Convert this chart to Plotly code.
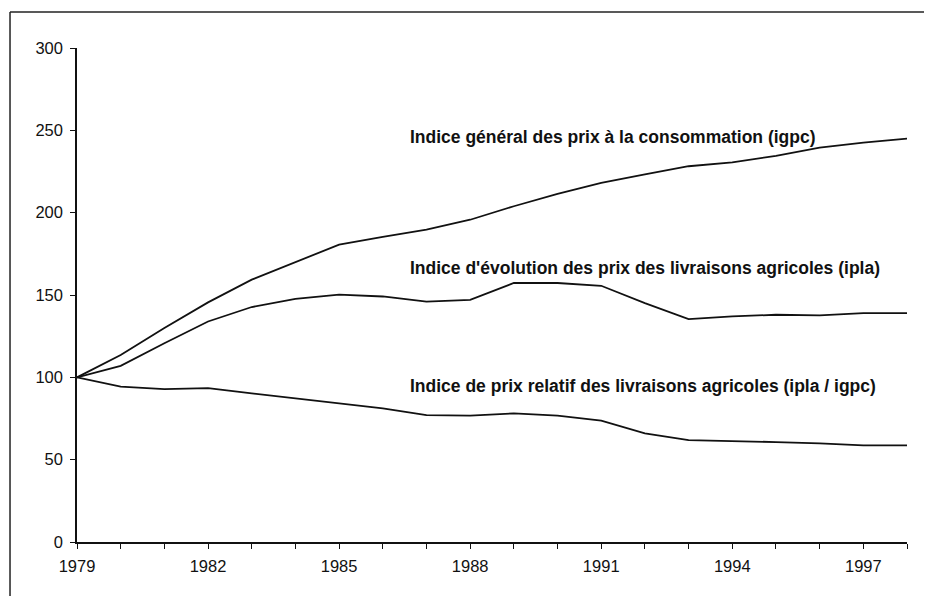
import plotly.graph_objects as go

years = list(range(1979, 1999))
igpc = [100, 113.6, 129.9, 145.5, 159.3, 169.8, 180.6, 185.3, 189.7, 195.7,
        203.9, 211.4, 218.1, 223.2, 228.2, 230.5, 234.5, 239.5, 242.5, 245.0]
ipla = [100, 107.0, 120.7, 133.9, 142.7, 147.7, 150.2, 149.1, 146.0, 147.1,
        157.3, 157.3, 155.6, 145.1, 135.3, 137.0, 138.0, 137.6, 139.0, 139.0]
ratio = [100, 94.3, 92.8, 93.4, 90.3, 87.3, 84.2, 81.2, 77.1, 76.7,
         78.1, 76.7, 73.7, 66.0, 61.9, 61.5, 60.7, 59.9, 58.7, 58.7]

labels = [
    "Indice général des prix à la consommation (igpc)",
    "Indice d'évolution des prix des livraisons agricoles (ipla)",
    "Indice de prix relatif des livraisons agricoles (ipla / igpc)",
]
tick_years = list(range(1979, 1999, 3))

fig = go.Figure()
for name, vals in zip(labels, [igpc, ipla, ratio]):
    fig.add_trace(go.Scatter(x=years, y=vals, mode="lines", name=name,
                             line=dict(color="#111111", width=1.8),
                             showlegend=False, hoverinfo="x+y"))

ann_pos = [(1986.58, 246), (1986.58, 166.5), (1986.58, 95)]
for (ax, ay), txt in zip(ann_pos, labels):
    fig.add_annotation(x=ax, y=ay, xref="x", yref="y", text="<b>" + txt + "</b>",
                       showarrow=False, xanchor="left", yanchor="middle",
                       font=dict(family="Liberation Sans, Arial", size=17.5, color="#111111"))

# outer frame (top and left edges visible)
fig.add_shape(type="line", xref="paper", yref="paper", x0=-0.0807, x1=1.2, y0=1.073, y1=1.073,
              line=dict(color="#222222", width=1.5))
fig.add_shape(type="line", xref="paper", yref="paper", x0=-0.0807, x1=-0.0807, y0=-0.2, y1=1.073,
              line=dict(color="#222222", width=1.5))

fig.update_layout(
    width=932, height=596,
    margin=dict(l=69, r=33, t=40, b=62),
    paper_bgcolor="white", plot_bgcolor="white",
    font=dict(family="Liberation Sans, Arial", size=16.5, color="#111111"),
    xaxis=dict(range=[1979, 1998], showgrid=False, zeroline=False,
               showline=True, linecolor="#111111", linewidth=1.5,
               ticks="outside", ticklen=5, tickcolor="#111111", tickwidth=1.2,
               tickvals=years, ticklabelstandoff=3,
               ticktext=[str(y) if y in tick_years else "" for y in years],
               tickfont=dict(size=16.5)),
    yaxis=dict(range=[0, 300], dtick=50, showgrid=False, zeroline=False,
               showline=True, linecolor="#111111", linewidth=1.5,
               ticks="outside", ticklen=5, tickcolor="#111111", tickwidth=1.2,
               ticklabelstandoff=4,
               tickfont=dict(size=16.5)),
)

fig.write_html("out.html")
